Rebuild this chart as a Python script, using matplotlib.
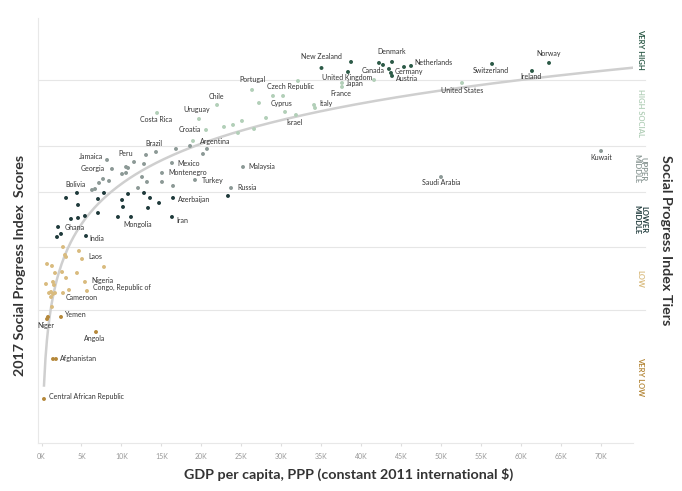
import numpy as np
import matplotlib
matplotlib.use("Agg")
import matplotlib.pyplot as plt

plt.rcParams['font.family'] = ['Lato', 'DejaVu Sans']

# country, GDP per capita (PPP, 2011 $), SPI score, tier
names = ["New Zealand", "", "United Kingdom", "", "", "Denmark", "Canada", "Germany", "Austria", "",
         "Netherlands", "Switzerland", "Ireland", "Norway",
         "Japan", "France", "", "United States", "", "Portugal", "", "Czech Republic", "", "Cyprus",
         "Israel", "Italy", "", "", "", "", "", "", "", "Chile", "Costa Rica", "Uruguay", "Croatia", "Argentina",
         "", "", "", "", "Brazil", "", "Peru", "", "Mexico", "Montenegro", "", "", "", "", "Turkey",
         "Malaysia", "Russia", "", "Jamaica", "Georgia", "", "", "", "", "", "", "", "Bolivia", "",
         "Saudi Arabia", "Kuwait",
         "", "", "", "", "", "", "", "", "", "", "Ghana", "", "", "India", "", "", "", "Mongolia", "",
         "", "", "", "", "Azerbaijan", "Iran",
         "", "", "", "", "Laos", "", "", "", "", "", "", "", "", "", "", "Nigeria", "",
         "Congo, Republic of", "", "", "", "", "Cameroon", "", "",
         "Yemen", "Niger", "", "Angola", "Afghanistan", "", "Central African Republic"]
gdp = [35040, 38740, 38360, 42240, 42740, 43870, 43490, 43740, 43870, 45370,
       46250, 56390, 61390, 63520,
       37610, 37610, 41620, 52630, 32100, 26350, 28970, 30230, 27220, 30480,
       31850, 34110, 34230, 28100, 25090, 26600, 24590, 23970, 22840, 21970, 14460, 19710, 20590, 18960,
       18590, 20710, 20210, 16830, 14330, 13080, 11580, 12830, 16330, 15080, 12580, 13200, 15080, 16460, 19210,
       25220, 23720, 12080, 8200, 8820, 10580, 10830, 10080, 10580, 7200, 7700, 8450, 6320, 6700,
       50000, 70030,
       23340, 3070, 4570, 4440, 7070, 7820, 7070, 5440, 4570, 3690, 2070, 2440, 1940, 5570, 10080, 10200, 9570, 11200, 10830,
       12830, 13580, 13330, 14710, 16460, 16330,
       2690, 4690, 2940, 3070, 5070, 690, 1310, 7820, 1690, 2570, 4440, 3070, 1440, 1560, 560, 5440, 3440,
       5690, 940, 1190, 1440, 1690, 2690, 1190, 1310,
       2440, 810, 690, 6820, 1810, 1440, 310]
spi = [89.66, 90.75, 88.94, 90.57, 90.21, 90.75, 89.48, 88.76, 88.22, 89.84,
       90.03, 90.39, 89.12, 90.57,
       86.95, 86.23, 87.49, 86.95, 87.31, 85.69, 84.60, 84.60, 83.33, 81.71,
       81.16, 82.97, 82.43, 80.62, 80.08, 78.63, 77.91, 79.36, 79.00, 82.97, 81.53, 80.44, 78.45, 76.46,
       75.56, 75.02, 74.11, 75.02, 74.47, 73.93, 72.66, 72.30, 72.48, 70.68, 69.95, 69.05, 69.05, 68.33, 69.41,
       71.76, 67.96, 67.96, 73.03, 71.40, 71.76, 71.58, 70.49, 70.68, 68.87, 69.59, 69.23, 67.60, 67.78,
       69.95, 74.65,
       66.52, 66.16, 64.89, 67.06, 65.97, 67.06, 63.44, 62.90, 62.54, 62.36, 60.91, 59.65, 59.10, 59.28, 65.79, 64.53, 62.72, 62.72, 66.88,
       67.06, 66.16, 64.35, 65.25, 66.16, 62.72,
       57.29, 56.57, 55.85, 55.49, 55.12, 54.22, 53.86, 53.68, 52.59, 52.77, 52.59, 51.69, 50.97, 50.42, 50.60, 50.97, 49.52,
       49.34, 48.97, 49.16, 48.80, 48.97, 48.97, 48.25, 46.45,
       44.64, 44.64, 44.27, 41.92, 37.04, 37.04, 29.81]
tier = (["VH"] * 14 + ["H"] * 24 + ["UM"] * 31 + ["LM"] * 25 + ["L"] * 25 + ["VL"] * 7)

tier_names = ["VH", "H", "UM", "LM", "L", "VL"]
tier_labels = ["VERY HIGH", "HIGH SOCIAL", "UPPER\nMIDDLE", "LOWER\nMIDDLE", "LOW", "VERY LOW"]
tier_colors = ["#2c5a47", "#b2cfb8", "#8c9996", "#1f3a3b", "#d9bb7e", "#b5883a"]
tier_bounds = [98.7, 87.49, 75.56, 67.24, 57.30, 45.82, 21.85]

# label offsets in pixels: (dx, dy, ha)
label_pos = {
    "New Zealand": (0, 11, "center"), "United Kingdom": (-1, -6, "center"), "Japan": (4, -1, "left"),
    "France": (-1, -7, "center"), "Italy": (5, 1, "left"), "Canada": (-4, -2, "right"),
    "Denmark": (0, 10, "center"), "Germany": (4, 1, "left"), "Austria": (4, -3, "left"),
    "Netherlands": (3, 3, "left"), "Switzerland": (-1, -7, "center"), "Ireland": (-1, -6, "center"),
    "Norway": (0, 9, "center"), "United States": (0, -8, "center"), "Portugal": (0, 10, "center"),
    "Czech Republic": (7, 9, "center"), "Cyprus": (-4, 8, "center"), "Israel": (-1, -7, "center"),
    "Chile": (-1, 8, "center"), "Uruguay": (-2, 9, "center"), "Costa Rica": (-1, -7, "center"),
    "Croatia": (-5, 0, "right"), "Argentina": (7, -1, "left"), "Brazil": (-2, 8, "center"),
    "Peru": (-8, 9, "center"), "Jamaica": (-4, 3, "right"), "Georgia": (-7, 0, "right"),
    "Bolivia": (-6, 5, "right"), "Mexico": (5, 0, "left"), "Montenegro": (6, 0, "left"),
    "Turkey": (7, -1, "left"), "Malaysia": (5, 0, "left"), "Russia": (6, 1, "left"),
    "Azerbaijan": (5, -2, "left"), "Iran": (4, -4, "left"), "Mongolia": (7, -8, "center"),
    "Saudi Arabia": (0, -6, "center"), "Kuwait": (0, -6, "center"), "Ghana": (7, -1, "left"),
    "India": (3, -2, "left"), "Laos": (6, 3, "left"), "Nigeria": (6, 1, "left"),
    "Congo, Republic of": (6, 4, "left"), "Cameroon": (3, -4, "left"), "Yemen": (4, 2, "left"),
    "Niger": (-2, -9, "center"), "Angola": (-1, -6, "center"), "Afghanistan": (4, 0, "left"),
    "Central African Republic": (5, 2, "left"),
}

fig = plt.figure(figsize=(6.82, 4.91), dpi=100)
ax = fig.add_axes([38 / 682, 48 / 491, (633 - 38) / 682, (443 - 18) / 491])
ax.set_xlim(-440, 74030)
ax.set_ylim(21.85, 98.7)

# tier separators
for b in tier_bounds[1:-1]:
    ax.axhline(b, xmin=0, xmax=1.02, color="#e6e6e6", lw=0.8, clip_on=False, zorder=0)

# log trend line
gdp_a = np.array(gdp)
spi_a = np.array(spi)
coef = np.polyfit(np.log(gdp_a), spi_a, 1)
xs = np.linspace(gdp_a.min(), 74000, 400)
ax.plot(xs, coef[0] * np.log(xs) + coef[1], color="#cfcfcf", lw=1.8, zorder=1)

cmap = dict(zip(tier_names, tier_colors))
ax.scatter(gdp, spi, s=8, c=[cmap[t] for t in tier], linewidths=0, zorder=3)

for n, x, y in zip(names, gdp, spi):
    if n:
        dx, dy, ha = label_pos[n]
        ax.annotate(n, (x, y), xytext=(dx, dy), textcoords="offset pixels",
                    ha=ha, va="center", fontsize=5, color="#333333", zorder=4)

# tier labels on the right
for i, (lab, col) in enumerate(zip(tier_labels, tier_colors)):
    ymid = (tier_bounds[i] + tier_bounds[i + 1]) / 2
    ax.text(1.012, ymid, lab, transform=ax.get_yaxis_transform(), rotation=-90,
            ha="center", va="center", fontsize=5.5, fontweight="bold", color=col,
            linespacing=0.95)

ax.set_xticks(np.arange(0, 75000, 5000))
ax.set_xticklabels([f"{k}K" for k in range(0, 75, 5)])
ax.tick_params(axis="x", length=2, color="#dddddd", labelsize=5, labelcolor="#999999", pad=5)
ax.set_yticks([])
for s in ["top", "right"]:
    ax.spines[s].set_visible(False)
ax.spines["left"].set_color("#e8e8e8")
ax.spines["bottom"].set_color("#e8e8e8")
ax.spines["left"].set_linewidth(0.8)
ax.spines["bottom"].set_linewidth(0.8)

fig.text(349 / 682, 1 - 474 / 491, "GDP per capita, PPP (constant 2011 international $)",
         ha="center", va="center", fontsize=10.3, fontweight="bold", color="#333333")
fig.text(20 / 682, 1 - 265 / 491, "2017 Social Progress Index  Scores", rotation=90,
         ha="center", va="center", fontsize=10.3, fontweight="bold", color="#333333")
fig.text(666 / 682, 1 - 240 / 491, "Social Progress Index Tiers", rotation=-90,
         ha="center", va="center", fontsize=10.3, fontweight="bold", color="#333333")

fig.savefig("out.png", dpi=100)
